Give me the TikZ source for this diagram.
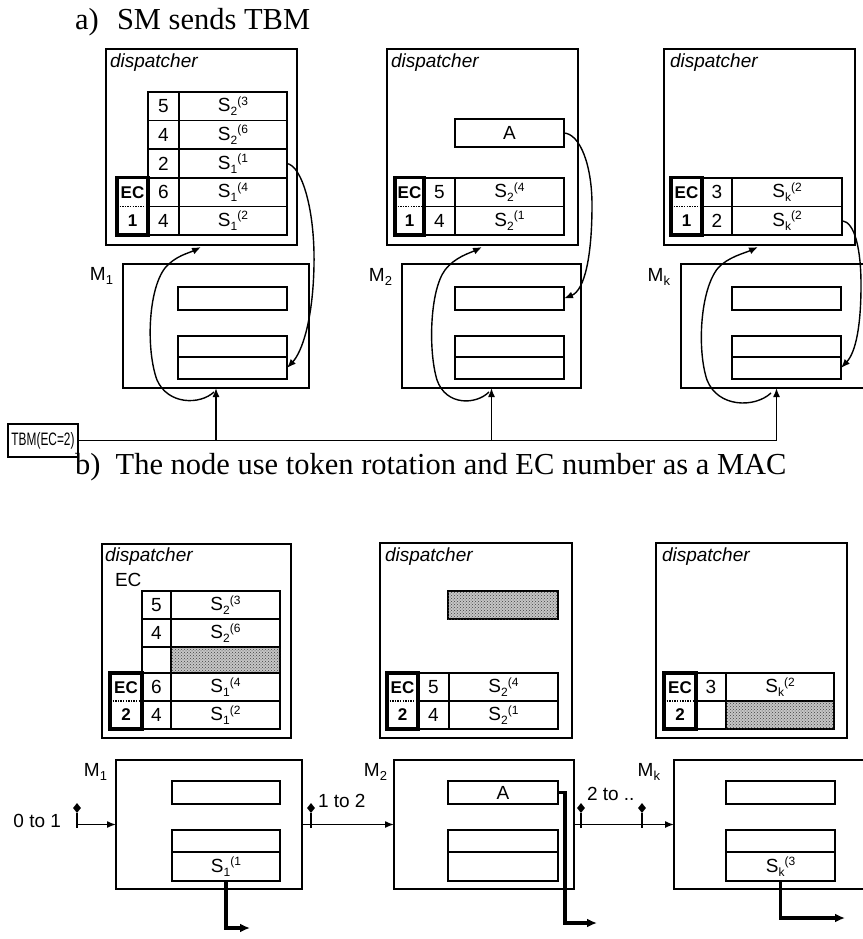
\documentclass[tikz,border=0pt]{standalone}
\usepackage{fontspec}
\setmainfont{Liberation Serif}
\setsansfont{Liberation Sans}
\usetikzlibrary{arrows.meta,patterns,shapes.geometric,calc}
\newcommand{\rect}[7][]{\node[cell,#1,minimum width={(#5-#3)*1pt},minimum height={(#6-#4)*1pt}] (#2) at (#3,#4) {#7};}
\newcommand{\Sv}[2]{S\raisebox{-4pt}{\fontsize{12}{12}\selectfont #1}\raisebox{6.5pt}{\fontsize{12}{12}\selectfont (#2}}
\newcommand{\Mv}[1]{M\raisebox{-4pt}{\fontsize{13}{13}\selectfont #1}}
\newcommand{\ecb}[6]{\rect[ecbox]{#1}{#2}{#3}{#4}{#5}{}
  \draw[dotline] (#1.west) -- (#1.east);
  \node[ecl] (#1t) at ($(#1.north)!0.26!(#1.south)$) {EC};
  \node[ecl] (#1n) at ($(#1.north)!0.75!(#1.south)$) {#6};}
\begin{document}
\begin{tikzpicture}[x=1pt,y=-1pt,
  font=\sffamily\fontsize{19}{22}\selectfont,
  line join=miter,
  cell/.style={draw, line width=1.5pt, inner sep=0pt, outer sep=0pt, anchor=north west},
  ecbox/.style={cell, line width=3.2pt},
  shaded/.style={fill=gray!45, postaction={pattern=crosshatch dots, pattern color=black!75}},
  lab/.style={inner sep=0pt, outer sep=0pt},
  disp/.style={lab, anchor=base west, font=\sffamily\itshape\fontsize{19}{22}\selectfont},
  ttl/.style={lab, anchor=base west, font=\rmfamily\fontsize{30.5}{36}\selectfont},
  ecl/.style={lab, font=\sffamily\bfseries\fontsize{17}{20}\selectfont},
  link/.style={line width=1.4pt},
  tip/.style={-{Latex[length=9pt,width=7pt]}},
  fat/.style={line width=3.2pt, -{Latex[length=10pt,width=9pt]}},
  dotline/.style={line width=1.3pt, dash pattern=on 1.3pt off 1.3pt},
  pin/.style={diamond, fill, inner sep=0pt, minimum width=8pt, minimum height=10pt},
]
\useasboundingbox (0,0) rectangle (862,939);

% ================= a) =================
\node[ttl] (ta) at (75,30) {a)\hspace{0.6em}SM sends TBM};

% dispatcher 1
\rect{D1}{106}{49}{297}{245}{}
\node[disp] (D1l) at (110,68) {dispatcher};
\rect{D1n1}{148}{92}{179}{120.6}{5}
\rect{D1s1}{179}{92}{287}{120.6}{\Sv{2}{3}}
\rect{D1n2}{148}{120.6}{179}{149.2}{4}
\rect{D1s2}{179}{120.6}{287}{149.2}{\Sv{2}{6}}
\rect{D1n3}{148}{149.2}{179}{177.8}{2}
\rect{D1s3}{179}{149.2}{287}{177.8}{\Sv{1}{1}}
\rect{D1n4}{148}{177.8}{179}{206.4}{6}
\rect{D1s4}{179}{177.8}{287}{206.4}{\Sv{1}{4}}
\rect{D1n5}{148}{206.4}{179}{235}{4}
\rect{D1s5}{179}{206.4}{287}{235}{\Sv{1}{2}}
\ecb{D1ec}{117}{177.8}{148}{235}{1}

% dispatcher 2
\rect{D2}{387}{49}{578}{245}{}
\node[disp] (D2l) at (391,68) {dispatcher};
\rect{D2A}{455}{119}{564}{147}{A}
\rect{D2n1}{424}{177.8}{455}{206.4}{5}
\rect{D2s1}{455}{177.8}{564}{206.4}{\Sv{2}{4}}
\rect{D2n2}{424}{206.4}{455}{235}{4}
\rect{D2s2}{455}{206.4}{564}{235}{\Sv{2}{1}}
\ecb{D2ec}{395}{177.8}{424}{235}{1}

% dispatcher k
\rect{D3}{664}{49}{855}{245}{}
\node[disp] (D3l) at (670,68) {dispatcher};
\rect{D3n1}{702}{177.8}{732}{206.4}{3}
\rect{D3s1}{732}{177.8}{842}{206.4}{\Sv{k}{2}}
\rect{D3n2}{702}{206.4}{732}{235}{2}
\rect{D3s2}{732}{206.4}{842}{235}{\Sv{k}{2}}
\ecb{D3ec}{671}{177.8}{702}{235}{1}

% M boxes (top)
\rect{M1}{123}{264}{309}{388}{}
\rect{M1a}{178}{287}{287}{310}{}
\rect{M1b}{178}{336}{287}{357}{}
\rect{M1c}{178}{357}{287}{379}{}
\node[lab, anchor=north east] (M1l) at (113,267) {\Mv{1}};

\rect{M2}{402}{264}{581}{388}{}
\rect{M2a}{455}{287}{564}{310}{}
\rect{M2b}{455}{336}{564}{357}{}
\rect{M2c}{455}{357}{564}{379}{}
\node[lab, anchor=north east] (M2l) at (392,268) {\Mv{2}};

\rect{M3}{681}{264}{872}{388}{}
\rect{M3a}{732}{287}{841}{310}{}
\rect{M3b}{732}{336}{841}{357}{}
\rect{M3c}{732}{357}{841}{379}{}
\node[lab, anchor=north east] (M3l) at (670,268) {\Mv{k}};

% TBM
\rect{TBM}{8}{424}{78}{457}{\scalebox{0.66}[1]{\fontsize{18}{20}\selectfont TBM(EC=2)}}
\draw[link] (TBM.east) -- (M3.south |- TBM.east);
\draw[link,tip] (M1.south |- TBM.east) -- (M1.south);
\draw[link,tip] (M2.south |- TBM.east) -- (M2.south);
\draw[link,tip] (M3.south |- TBM.east) -- (M3.south);

% loops into dispatchers
\coordinate (c1s) at (214,392);
\coordinate (c1e) at (201,247);
\draw[link,tip] (c1s) .. controls (200,405) and (168,405) .. (157,380)
  .. controls (146,350) and (148,290) .. (165,268)
  .. controls (175,256) and (189,253) .. (c1e);
\coordinate (c2s) at (489,392);
\coordinate (c2e) at (482,247);
\draw[link,tip] (c2s) .. controls (476,405) and (446,406) .. (437,380)
  .. controls (428,350) and (430,290) .. (445,270)
  .. controls (455,257) and (470,253) .. (c2e);
\coordinate (c3s) at (771,393);
\coordinate (c3e) at (758,247);
\draw[link,tip] (c3s) .. controls (755,408) and (718,408) .. (707,380)
  .. controls (697,350) and (700,290) .. (718,268)
  .. controls (728,257) and (745,253) .. (c3e);

% dispatcher -> M
\draw[link,tip] (D1s3.east) .. controls (302,166) and (315,210) .. (314,265)
  .. controls (313,320) and (302,352) .. (M1c.east);
\draw[link,tip] (D2A.east) .. controls (580,134) and (592,165) .. (592,205)
  .. controls (592,255) and (585,290) .. (M2a.east);
\draw[link,tip] (D3s2.east) .. controls (855,222) and (861,250) .. (861,285)
  .. controls (861,325) and (856,352) .. (M3c.east);

% ================= b) =================
\node[ttl] (tb) at (75,474) {b)\enspace The node use token rotation and EC number as a MAC};

% dispatcher 1 (b)
\rect{E1}{102}{544}{291}{738}{}
\node[disp] (E1l) at (105,561) {dispatcher};
\node[lab, anchor=base west] (E1ec) at (115,586) {EC};
\rect{E1n1}{142}{591}{171}{619}{5}
\rect{E1s1}{171}{591}{280}{619}{\Sv{2}{3}}
\rect{E1n2}{142}{619}{171}{647}{4}
\rect{E1s2}{171}{619}{280}{647}{\Sv{2}{6}}
\rect{E1n3}{142}{647}{171}{673}{}
\rect[shaded]{E1s3}{171}{647}{280}{673}{}
\rect{E1n4}{142}{673}{171}{701}{6}
\rect{E1s4}{171}{673}{280}{701}{\Sv{1}{4}}
\rect{E1n5}{142}{701}{171}{729}{4}
\rect{E1s5}{171}{701}{280}{729}{\Sv{1}{2}}
\ecb{E1ecb}{110}{673}{142}{729}{2}

% dispatcher 2 (b)
\rect{E2}{380}{543}{572}{738}{}
\node[disp] (E2l) at (385,561) {dispatcher};
\rect[shaded]{E2A}{448}{591}{558}{619}{}
\rect{E2n1}{418}{673}{449}{701}{5}
\rect{E2s1}{449}{673}{558}{701}{\Sv{2}{4}}
\rect{E2n2}{418}{701}{449}{729}{4}
\rect{E2s2}{449}{701}{558}{729}{\Sv{2}{1}}
\ecb{E2ecb}{387}{673}{418}{729}{2}

% dispatcher k (b)
\rect{E3}{656}{543}{847}{738}{}
\node[disp] (E3l) at (662,561) {dispatcher};
\rect{E3n1}{696}{673}{726}{701}{3}
\rect{E3s1}{726}{673}{834}{701}{\Sv{k}{2}}
\rect{E3n2}{696}{701}{726}{729}{}
\rect[shaded]{E3s2}{726}{701}{834}{729}{}
\ecb{E3ecb}{664}{673}{696}{729}{2}

% M boxes (b)
\rect{N1}{116}{760}{302}{889}{}
\rect{N1a}{172}{781}{280}{804}{}
\rect{N1b}{172}{830}{280}{852}{}
\rect{N1c}{172}{852}{280}{881}{\Sv{1}{1}}
\node[lab, anchor=north east] (N1l) at (107,763) {\Mv{1}};

\rect{N2}{394}{760}{574}{889}{}
\rect{N2a}{448}{781}{558}{804}{A}
\rect{N2b}{448}{830}{558}{852}{}
\rect{N2c}{448}{852}{558}{881}{}
\node[lab, anchor=north east] (N2l) at (387,763) {\Mv{2}};

\rect{N3}{674}{760}{872}{889}{}
\rect{N3a}{726}{781}{835}{804}{}
\rect{N3b}{726}{830}{835}{852}{}
\rect{N3c}{726}{852}{835}{881}{\Sv{k}{3}}
\node[lab, anchor=north east] (N3l) at (660,763) {\Mv{k}};

% token markers
\node[pin] (p0) at (77,808) {};
\node[pin] (p1) at (311,808) {};
\node[pin] (p2) at (581,808) {};
\node[pin] (p3) at (642,808) {};
\coordinate (p0b) at (77,828);
\coordinate (p1b) at (311,828);
\coordinate (p2b) at (581,828);
\coordinate (p3b) at (642,828);
\draw[link] (p0) -- (p0b);
\draw[link] (p1) -- (p1b);
\draw[link] (p2) -- (p2b);
\draw[link] (p3) -- (p3b);
\node[lab, anchor=east] (l0) at (61,821) {0 to 1};
\node[lab, anchor=west] (l1) at (318,801) {1 to 2};
\node[lab, anchor=west] (l2) at (587,794) {2 to ..};

% token path
\draw[link,tip] (p0 |- N1.west) -- (N1.west);
\draw[link,tip] (N1.east) -- (N2.west);
\draw[link,tip] (N2.east) -- (N3.west);

% outputs
\coordinate (o1) at (250,928);
\coordinate (o2) at (597,923);
\coordinate (o3) at (845,918);
\draw[fat] (N1c.south) |- (o1);
\draw[fat] (N2a.east) -- ++(7,0) |- (o2);
\draw[fat] (N3c.south) |- (o3);
\end{tikzpicture}
\end{document}
